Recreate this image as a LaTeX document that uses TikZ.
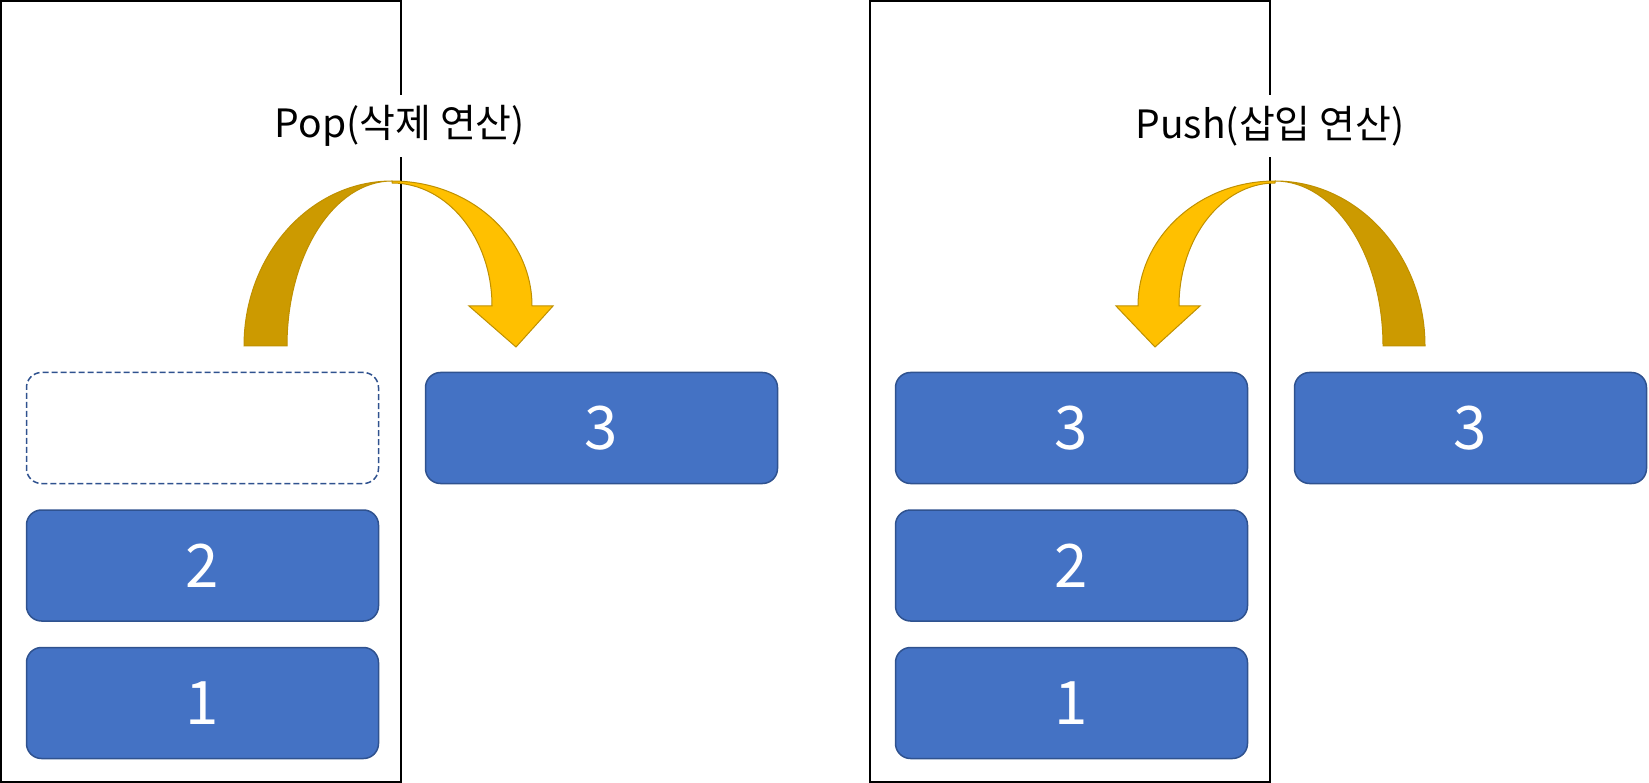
\documentclass[tikz,border=0pt]{standalone}
\usepackage{fontspec}
\setmainfont{Noto Sans CJK KR}
\usepackage{xcolor}
\usepackage{tikz}
\usetikzlibrary{positioning}

\definecolor{boxblue}{HTML}{4472C4}
\definecolor{boxedge}{HTML}{2F528F}
\definecolor{goldlight}{HTML}{FFC000}
\definecolor{golddark}{HTML}{CC9A00}
\definecolor{goldedge}{HTML}{BF9000}

\tikzset{
  elem/.style={draw=boxedge, fill=boxblue, line width=1.5pt, rounded corners=15pt,
    minimum width=352pt, minimum height=111pt, inner sep=0pt, text=white,
    font=\fontsize{60}{72}\selectfont},
  slot/.style={elem, fill=none, dashed, dash pattern=on 6pt off 3pt},
  oplabel/.style={fill=white, inner xsep=4pt, minimum height=62pt,
    font=\fontsize{39}{47}\selectfont},
  stackwall/.style={draw=black, line width=2pt},
  bandback/.style={fill=golddark, draw=goldedge, line width=1pt},
  bandfront/.style={fill=goldlight, draw=goldedge, line width=1pt}
}

\begin{document}
\begin{tikzpicture}[x=1pt, y=-1pt]
	\useasboundingbox (0,0) rectangle (1649,783);
	% stacks
	\draw[stackwall] (1,1) rectangle (401,781.5);
	\draw[stackwall] (870,1) rectangle (1270,781.5);
	% pop: top element leaves the stack
	\node[slot] (popslot) at (202.5,428) {};
	\node[elem, below=25pt of popslot] (poptwo) {2};
	\node[elem, below=25pt of poptwo] (popone) {1};
	\node[elem] (popout) at (601.5,428) {3};
	% push: new element goes on top
	\node[elem] (pushthree) at (1071.5,428) {3};
	\node[elem, below=25pt of pushthree] (pushtwo) {2};
	\node[elem, below=25pt of pushtwo] (pushone) {1};
	\node[elem] (pushin) at (1470.5,428) {3};
	% labels
	\node[oplabel] (poplbl) at (400,126) {Pop(삭제 연산)};
	\node[oplabel] (pushlbl) at (1270,126) {Push(삽입 연산)};
	% curved arrows
	\begin{scope}[shift={(392,181)}]
		\filldraw[bandback] (-148,165) arc[start angle=180, end angle=270, x radius=148, y radius=165]
			arc[start angle=270, end angle=180, x radius=105, y radius=165] -- cycle;
		\filldraw[bandfront] (0,0) arc[start angle=270, end angle=360, x radius=140, y radius=125]
			-- (161,125) -- (124,166) -- (77,125) -- (100,125)
			arc[start angle=0, end angle=-90, x radius=100, y radius=123] -- cycle;
	\end{scope}
	\begin{scope}[shift={(1275,181)}, xscale=-1]
		\filldraw[bandback] (-150,165) arc[start angle=180, end angle=270, x radius=150, y radius=165]
			arc[start angle=270, end angle=180, x radius=108, y radius=165] -- cycle;
		\filldraw[bandfront] (0,0) arc[start angle=270, end angle=360, x radius=137, y radius=125]
			-- (159,125) -- (120,166) -- (75,125) -- (96,125)
			arc[start angle=0, end angle=-90, x radius=96, y radius=123] -- cycle;
	\end{scope}
\end{tikzpicture}
\end{document}
